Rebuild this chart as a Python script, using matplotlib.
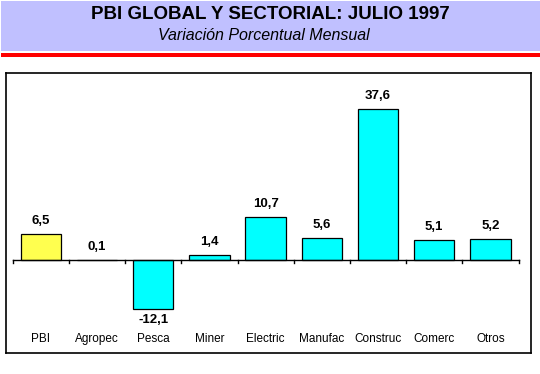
import matplotlib
matplotlib.use("Agg")
import matplotlib.pyplot as plt
from matplotlib.patches import Rectangle

categories = ["PBI", "Agropec", "Pesca", "Miner", "Electric", "Manufac", "Construc", "Comerc", "Otros"]
values = [6.5, 0.1, -12.1, 1.4, 10.7, 5.6, 37.6, 5.1, 5.2]
labels = ["6,5", "0,1", "-12,1", "1,4", "10,7", "5,6", "37,6", "5,1", "5,2"]
colors = ["#FFFF4F"] + ["#00FFFF"] * 8

title = "PBI GLOBAL Y SECTORIAL: JULIO 1997"
subtitle = "Variación Porcentual Mensual"

plt.rcParams['font.family'] = ['Liberation Sans', 'DejaVu Sans']

W, H = 540, 374
fig = plt.figure(figsize=(W / 100, H / 100), dpi=100)

def fx(px):
    return px / W

def fy(py):
    return 1 - py / H

# banner
fig.patches.append(Rectangle((fx(1), fy(50.5)), fx(539), 49.5 / H, transform=fig.transFigure,
                             facecolor="#C0C0FF", edgecolor="none"))
fig.patches.append(Rectangle((fx(1), fy(56.7)), fx(539), 4 / H, transform=fig.transFigure,
                             facecolor="#FF0000", edgecolor="none"))
fig.text(fx(270), fy(14.5), title, ha="center", va="center", fontsize=13.5,
         fontweight="heavy", color="black")
fig.text(fx(264), fy(35), subtitle, ha="center", va="center", fontsize=11.5,
         fontstyle="italic", color="black")

# axes occupying the frame
left, right, top, bottom = 6, 531, 73, 353
ax = fig.add_axes([fx(left), fy(bottom), fx(right - left), (bottom - top) / H])
px_per_unit = 4.016
zero_px = 260.3
ax.set_ylim((zero_px - bottom) / px_per_unit, (zero_px - top) / px_per_unit)
cat_w = 56.2
x0 = 12.7
ax.set_xlim(-0.5 + (left - x0) / cat_w, -0.5 + (right - x0) / cat_w)

xs = list(range(len(categories)))
ax.bar(xs, values, width=0.72, color=colors, edgecolor="black", linewidth=0.9, zorder=3)

for s in ax.spines.values():
    s.set_linewidth(1.2)
    s.set_color("black")
ax.set_xticks([])
ax.set_yticks([])

# zero axis with boundary ticks
n = len(categories)
ax.plot([-0.5, n - 0.5], [0, 0], color="black", lw=1.0, zorder=4)
tick_len = 3 / px_per_unit
for b in range(n + 1):
    ax.plot([b - 0.5, b - 0.5], [0, -tick_len], color="black", lw=1.0, zorder=4)

for x, v, lab in zip(xs, values, labels):
    off = 13 if v >= 0 else -11.5
    ax.annotate(lab, (x, v), xytext=(0, off), textcoords="offset pixels",
                ha="center", va="center", fontsize=9.5, fontweight="bold")
    ax.text(x, 0.049, categories[x], transform=ax.get_xaxis_transform(),
            ha="center", va="center", fontsize=8.5)

fig.savefig("out.png", dpi=100)
